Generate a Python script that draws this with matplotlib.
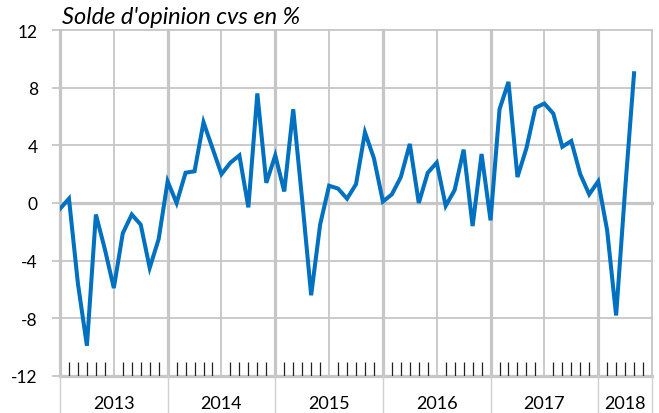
import numpy as np
import matplotlib.pyplot as plt

plt.rcParams['font.family'] = ['Lato', 'DejaVu Sans']

# monthly balance of opinion, Jan 2013 .. May 2018
values = [
    -0.4, 0.3, -5.6, -9.9, -0.8, -3.2, -5.9, -2.1, -0.8, -1.5, -4.5, -2.5,   # 2013
    1.5, 0.0, 2.1, 2.2, 5.6, 3.8, 2.0, 2.8, 3.3, -0.3, 7.6, 1.4,            # 2014
    3.3, 0.8, 6.5, 0.2, -6.4, -1.5, 1.2, 1.0, 0.3, 1.3, 4.9, 3.1,           # 2015
    0.1, 0.6, 1.8, 4.1, 0.0, 2.1, 2.8, -0.2, 0.9, 3.7, -1.6, 3.4,           # 2016
    -1.2, 6.5, 8.4, 1.8, 3.8, 6.6, 6.9, 6.2, 3.9, 4.3, 2.0, 0.6,            # 2017
    1.5, -1.9, -7.8, 0.9, 9.0,                                               # 2018
]
years = ['2013', '2014', '2015', '2016', '2017', '2018']
yticks = [-12, -8, -4, 0, 4, 8, 12]
title = "Solde d'opinion cvs en %"

grid_c = '#c6c6c6'
line_c = '#0070c0'

fig = plt.figure(figsize=(6.59, 4.14), dpi=100)
ax = fig.add_axes([60 / 659, 37 / 414, 592 / 659, 346 / 414])

x = np.arange(len(values))
n_months = 12 * (len(years) - 1) + 6
ax.set_xlim(0, n_months)
ax.set_ylim(-12, 12)

# horizontal grid
for v in yticks:
    lw = 2.3 if v in (0, -12) else 1.3
    ax.axhline(v, color=grid_c, lw=lw, zorder=1, clip_on=False)

# vertical grid: thick at year starts, thin at mid-year
for m in range(0, n_months + 1, 6):
    lw = 2.3 if m % 12 == 0 else 1.3
    if m == n_months:
        lw = 1.3
    ax.axvline(m, color=grid_c, lw=lw, zorder=1, clip_on=False)

ax.plot(x, values, color=line_c, lw=2.9, solid_joinstyle='miter', zorder=3)

# month ticks
minor = [m for m in range(n_months) if m % 6 != 0]
ax.vlines(minor, -12, -11, color='#222222', lw=0.9, zorder=2)

for s in ax.spines.values():
    s.set_visible(False)

ax.set_yticks(yticks)
ax.set_yticklabels([str(v) for v in yticks])
ax.tick_params(axis='y', length=6, width=1.3, color=grid_c, labelsize=12.5, pad=10)
ax.set_xticks([])

# year labels and separators below the axis
trans = ax.get_xaxis_transform()
for i, yr in enumerate(years):
    start = 12 * i
    end = min(start + 12, n_months)
    ax.text((start + end) / 2, -0.078, yr, transform=trans, ha='center', va='center', fontsize=13)
    ax.plot([start, start], [0, -0.11], transform=trans, color='#d0d0d0', lw=1, clip_on=False)
ax.plot([n_months, n_months], [0, -0.11], transform=trans, color='#d0d0d0', lw=1, clip_on=False)

fig.text(62 / 659, 1 - 18 / 414, title, style='italic', fontsize=17, ha='left', va='center')

fig.savefig('out.png', dpi=100)
